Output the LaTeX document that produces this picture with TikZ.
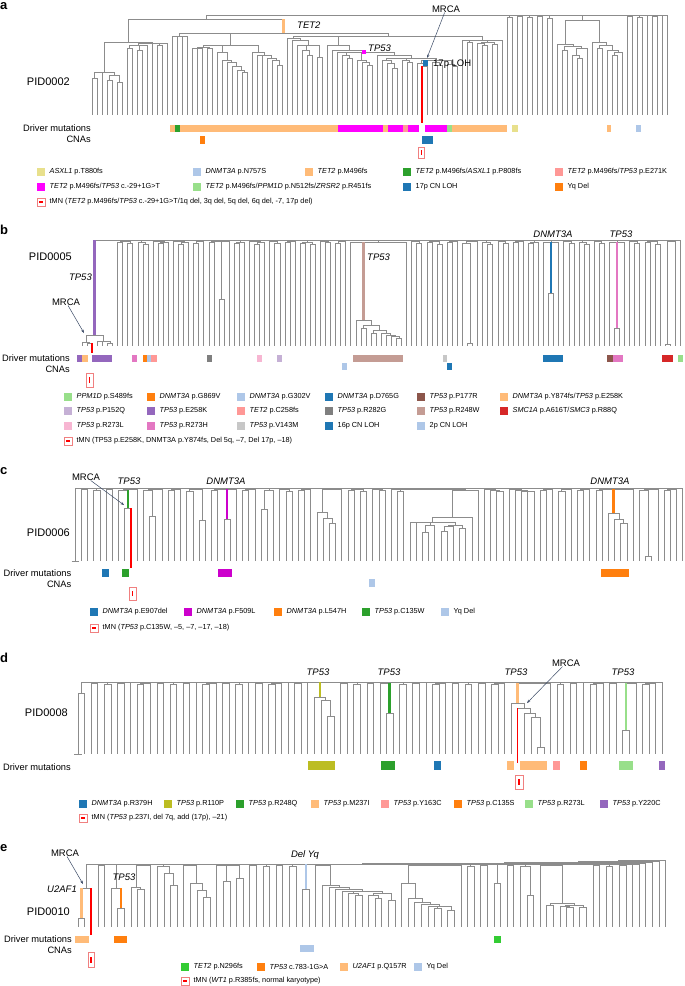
\documentclass[tikz,border=0pt]{standalone}
\usepackage{fontspec}
\setmainfont{Liberation Sans}
\setsansfont{Liberation Sans}
\usetikzlibrary{arrows.meta}

\definecolor{cLor}{HTML}{FFBB78}
\definecolor{cGrn}{HTML}{2CA02C}
\definecolor{cBlu}{HTML}{1F77B4}
\definecolor{cOra}{HTML}{FF7F0E}
\definecolor{cMag}{HTML}{FF00FF}
\definecolor{cMag2}{HTML}{CC00CC}
\definecolor{cPnk}{HTML}{E377C2}
\definecolor{cLav}{HTML}{C5B0D5}
\definecolor{cPur}{HTML}{9467BD}
\definecolor{cSal}{HTML}{FF9896}
\definecolor{cGry}{HTML}{7F7F7F}
\definecolor{cBrp}{HTML}{C49C94}
\definecolor{cRed}{HTML}{D62728}
\definecolor{cLgr}{HTML}{98DF8A}
\definecolor{cBrn}{HTML}{8C564B}
\definecolor{cLgy}{HTML}{C7C7C7}
\definecolor{cLpk}{HTML}{F7B6D2}
\definecolor{cLbl}{HTML}{AEC7E8}
\definecolor{cYel}{HTML}{E8E08C}
\definecolor{cOli}{HTML}{BCBD22}
\definecolor{cBgr}{HTML}{33CC33}
\definecolor{cArr}{HTML}{3B4A66}
\definecolor{cTmn}{HTML}{F08080}

\tikzset{
 treeline/.style={draw=black!45, line width=0.45pt},
 cbr/.style={line width=2.4pt},
 lbl/.style={inner sep=0pt, font=\fontsize{9.5}{11}\selectfont},
 glbl/.style={inner sep=0pt, font=\fontsize{9.5}{11}\selectfont\itshape},
 pid/.style={inner sep=0pt, anchor=east, font=\fontsize{11}{13}\selectfont},
 rowlbl/.style={inner sep=0pt, anchor=east, font=\fontsize{9.3}{11}\selectfont},
 plet/.style={inner sep=0pt, anchor=west, font=\fontsize{13}{15}\selectfont\bfseries},
 lgtext/.style={inner sep=0pt, anchor=west, font=\fontsize{7.3}{9}\selectfont},
 marrow/.style={draw=cArr, line width=0.5pt, -{Stealth[length=3.5pt,width=2.6pt]}},
 redl/.style={draw=red, line width=1.6pt},
}

\newcommand\DTv[3]{\draw[treeline] (#1,#2) -- (#1,#3);}
\newcommand\DTh[3]{\draw[treeline] (#1,#3) -- (#2,#3);}
\newcommand\DTc[3]{\coordinate (#1) at (#2,#3);}
\newcommand\lgbox[5]{\fill[#4] (#2,#3-4) rectangle ++(8,8); \node[lgtext] (#1) at (#2+12.5,#3) {#5};}
\newcommand\lgtmn[4]{\draw[cTmn, line width=0.6pt] (#2,#3-4) rectangle ++(8,8); \fill[red] (#2+2,#3-0.9) rectangle (#2+6,#3+0.9); \node[lgtext] (#1) at (#2+12.5,#3) {#4};}
\newcommand\dbar[5]{\fill[#5] (#1,#3) rectangle (#2,#4);}
\newcommand\tmnbox[4]{\draw[cTmn, line width=0.6pt] (#1,#2) rectangle (#3,#4); \fill[red] ({(#1+#3)/2-0.8},{#2+(#4-#2)*0.3}) rectangle ({(#1+#3)/2+0.8},{#4-(#4-#2)*0.3});}

\ExplSyntaxOn
\seq_new:N \g__dt_h_seq
\seq_new:N \g__dt_f_seq
\seq_new:N \g__dt_l_seq
\seq_new:N \g__dt_i_seq
\tl_new:N \g__dt_cx_tl
\tl_new:N \g__dt_cy_tl
\tl_new:N \g__dt_ci_tl
\tl_new:N \g__dt_cj_tl
\tl_new:N \g__dt_pre_tl
\int_new:N \g__dt_n_int
\tl_new:N \l__dt_h_tl
\tl_new:N \l__dt_f_tl
\tl_new:N \l__dt_l_tl
\tl_new:N \l__dt_i_tl
\cs_new_protected:Npn \__dt_attach:n #1
  {
    \use:x
      {
        \exp_not:N \DTv {\g__dt_cx_tl} {#1} {\g__dt_cy_tl}
        \exp_not:N \DTc {\g__dt_pre_tl \g__dt_ci_tl - \g__dt_cj_tl t} {\g__dt_cx_tl} {#1}
        \exp_not:N \DTc {\g__dt_pre_tl \g__dt_ci_tl - \g__dt_cj_tl b} {\g__dt_cx_tl} {\g__dt_cy_tl}
      }
  }
\cs_new_protected:Npn \__dt_close:
  {
    \seq_gpop:NN \g__dt_h_seq \l__dt_h_tl
    \seq_gpop:NN \g__dt_f_seq \l__dt_f_tl
    \seq_gpop:NN \g__dt_l_seq \l__dt_l_tl
    \seq_gpop:NN \g__dt_i_seq \l__dt_i_tl
    \__dt_attach:n { \l__dt_h_tl }
    \tl_set_eq:NN \l__dt_l_tl \g__dt_cx_tl
    \use:x { \exp_not:N \DTh {\l__dt_f_tl} {\l__dt_l_tl} {\l__dt_h_tl} }
    \tl_gset:Nx \g__dt_cx_tl { \fp_eval:n { (\l__dt_f_tl + \l__dt_l_tl) / 2 } }
    \tl_gset_eq:NN \g__dt_cy_tl \l__dt_h_tl
    \tl_gset_eq:NN \g__dt_ci_tl \l__dt_i_tl
  }
\cs_new_protected:Npn \dt_tree:nnnnn #1#2#3#4#5
  {
    \seq_gclear:N \g__dt_h_seq
    \seq_gclear:N \g__dt_f_seq
    \seq_gclear:N \g__dt_l_seq
    \seq_gclear:N \g__dt_i_seq
    \tl_gset:Nn \g__dt_pre_tl {#1}
    \int_gzero:N \g__dt_n_int
    \tl_gset:Nx \g__dt_cx_tl { \fp_eval:n {#2} }
    \tl_gset:Nn \g__dt_cy_tl {#4}
    \tl_gset:Nn \g__dt_ci_tl {0}
    \tl_gset:Nn \g__dt_cj_tl {0}
    \clist_map_inline:nn {#5}
      {
        \bool_while_do:nn
          {
            \bool_lazy_and_p:nn
              { ! \seq_if_empty_p:N \g__dt_h_seq }
              { \fp_compare_p:nNn { \seq_item:Nn \g__dt_h_seq {1} } > {##1} }
          }
          { \__dt_close: }
        \bool_lazy_and:nnTF
          { ! \seq_if_empty_p:N \g__dt_h_seq }
          { \fp_compare_p:nNn { \seq_item:Nn \g__dt_h_seq {1} } = {##1} }
          {
            \__dt_attach:n {##1}
            \seq_gpop:NN \g__dt_l_seq \l__dt_l_tl
            \seq_gpush:NV \g__dt_l_seq \g__dt_cx_tl
          }
          {
            \__dt_attach:n {##1}
            \seq_gpush:Nn \g__dt_h_seq {##1}
            \seq_gpush:NV \g__dt_f_seq \g__dt_cx_tl
            \seq_gpush:NV \g__dt_l_seq \g__dt_cx_tl
            \seq_gpush:NV \g__dt_i_seq \g__dt_ci_tl
          }
        \int_gincr:N \g__dt_n_int
        \tl_gset:Nx \g__dt_cx_tl { \fp_eval:n { #2 + #3 * \int_use:N \g__dt_n_int } }
        \tl_gset:Nn \g__dt_cy_tl {#4}
        \tl_gset:Nx \g__dt_ci_tl { \int_use:N \g__dt_n_int }
        \tl_gset:Nx \g__dt_cj_tl { \int_use:N \g__dt_n_int }
      }
    \bool_while_do:nn { ! \seq_if_empty_p:N \g__dt_h_seq } { \__dt_close: }
  }
\cs_new_eq:NN \dtree \dt_tree:nnnnn
\ExplSyntaxOff

\begin{document}
\begin{tikzpicture}[x=1pt,y=-1pt]
\fill[white] (0,0) rectangle (685,986);
\useasboundingbox (0,0) rectangle (685,986);

% ================= panel a =================
\node[plet] (la) at (0,6) {a};
\dtree{a}{92}{5}{115}{78,72,72,80,75,82,
42,48,45,50,45,43,43,45,43,
19,
36,36,36,
33,
48,48,47,48,
45,52,60,62,66,70,72,
45,52,55,55,58,60,65,
33,
38,40,45,50,55,45,57,
36,
45,50,52,55,58,52,60,62,65,52,55,60,63,68,58,60,62,
58,63,66,60,62,65,60,64,66,
36,
40,42,40,43,45,42,44,40,
15,17,15,16,15,17,15,16,15,18,
15,
44,50,46,55,58,48,
20,
42,48,45,50,55,52,
15,16,15,17,15,15,16,15,15}
\draw[cbr, cLor] (a16-82t) -- (a16-82b);
\node[glbl, anchor=west] (aTET2) at (297,25) {TET2};
\fill[cMag] (362,50) rectangle (366,54);
\node[glbl, anchor=west] (aTP53) at (368,48) {TP53};
\draw[redl] (a66-66t) -- (a66-66t |- 0,123);
\fill[cBlu] (423,60) rectangle (427.5,66);
\node[lbl, anchor=west] (a17p) at (433,64) {17p LOH};
\node[lbl] (aMRCA) at (446,9) {MRCA};
\coordinate (aMRCAt) at (427,58);
\draw[marrow] (aMRCA) -- (aMRCAt);
\node[pid] (aPID) at (70,82) {PID0002};
\node[rowlbl] (aDM) at (91,128) {Driver mutations};
\node[rowlbl] (aCN) at (91,139.5) {CNAs};
\dbar{170}{175}{124.5}{132}{cLor}
\dbar{175}{180}{124.5}{132}{cGrn}
\dbar{180}{338}{124.5}{132}{cLor}
\dbar{338}{383}{124.5}{132}{cMag}
\dbar{383}{388}{124.5}{132}{cLor}
\dbar{388}{403}{124.5}{132}{cMag}
\dbar{403}{408}{124.5}{132}{cSal}
\dbar{408}{418.5}{124.5}{132}{cMag}
\dbar{425}{447}{124.5}{132}{cMag}
\dbar{447}{452}{124.5}{132}{cLgr}
\dbar{452}{507}{124.5}{132}{cLor}
\dbar{512}{518}{124.5}{132}{cYel}
\dbar{607}{611}{124.5}{132}{cLor}
\dbar{636}{641}{124.5}{132}{cLbl}
\dbar{200}{205}{136}{144}{cOra}
\dbar{422}{433}{136}{144}{cBlu}
\tmnbox{418.5}{147}{424.5}{158}
\lgbox{aL1}{37}{172}{cYel}{\textit{ASXL1} p.T880fs}
\lgbox{aL2}{193}{172}{cLbl}{\textit{DNMT3A} p.N757S}
\lgbox{aL3}{305}{172}{cLor}{\textit{TET2} p.M496fs}
\lgbox{aL4}{403}{172}{cGrn}{\textit{TET2} p.M496fs/\textit{ASXL1} p.P808fs}
\lgbox{aL5}{555}{172}{cSal}{\textit{TET2} p.M496fs/\textit{TP53} p.E271K}
\lgbox{aL6}{37}{187}{cMag}{\textit{TET2} p.M496fs/\textit{TP53} c.-29+1G>T}
\lgbox{aL7}{193}{187}{cLgr}{\textit{TET2} p.M496fs/\textit{PPM1D} p.N512fs/\textit{ZRSR2} p.R451fs}
\lgbox{aL8}{403}{187}{cBlu}{17p CN LOH}
\lgbox{aL9}{555}{187}{cOra}{Yq Del}
\lgtmn{aL10}{37}{202}{tMN (\textit{TET2} p.M496fs/\textit{TP53} c.-29+1G>T/1q del, 3q del, 5q del, 6q del, -7, 17p del)}

% ================= panel b =================
\node[plet] (lb) at (0,230) {b};
\dtree{b}{82}{5.07}{346}{342,343,335,341,341,343,
240,242,241,243,240,242,244,240,241,243,
242,240,241,244,242,240,243,241,240,242,
241,299,241,240,243,242,240,241,244,242,
240,241,243,240,242,241,240,243,242,244,
240,241,242,240,243,241,240,242,
320,328,325,333,330,333,335,336,338,
242,240,241,243,240,242,241,244,240,242,
241,240,243,343,241,240,242,244,240,241,
243,240,242,241,240,243,242,240,242,293,
242,240,241,243,240,242,244,240,241,243,
240,242,328,242,240,241,243,240,242,241,
244,240,344,241,240}
\draw[cbr, cPur] (b0-6t) -- (b0-6b);
\draw[cbr, cBrp] (b54-63t) -- (b54-63b);
\draw[cbr, cBlu] (b92-93t) -- (b92-93b);
\draw[cbr, cPnk] (b105-106t) -- (b105-106b);
\draw[redl] (b2-2t) -- (b2-2t |- 0,353);
\node[pid] (bPID) at (72,257) {PID0005};
\node[glbl, anchor=east] (bTP53a) at (92,277) {TP53};
\node[lbl] (bMRCA) at (66,302) {MRCA};
\coordinate (bMRCAt) at (84,333);
\draw[marrow] (bMRCA) -- (bMRCAt);
\node[glbl, anchor=west] (bTP53b) at (367,257) {TP53};
\node[glbl] (bDNMT) at (553,234) {DNMT3A};
\node[glbl] (bTP53c) at (621,234) {TP53};
\node[rowlbl] (bDM) at (70,358) {Driver mutations};
\node[rowlbl] (bCN) at (70,369) {CNAs};
\dbar{77}{82}{354.5}{362}{cPur}
\dbar{82}{88}{354.5}{362}{cLor}
\dbar{92}{112}{354.5}{362}{cPur}
\dbar{132}{137}{354.5}{362}{cPnk}
\dbar{143}{147}{354.5}{362}{cOra}
\dbar{147}{151}{354.5}{362}{cLbl}
\dbar{151}{157}{354.5}{362}{cSal}
\dbar{207}{212}{354.5}{362}{cGry}
\dbar{257}{262}{354.5}{362}{cLpk}
\dbar{277}{282}{354.5}{362}{cLav}
\dbar{353}{403}{354.5}{362}{cBrp}
\dbar{443}{447}{354.5}{362}{cLgy}
\dbar{543}{563}{354.5}{362}{cBlu}
\dbar{607}{613}{354.5}{362}{cBrn}
\dbar{613}{623}{354.5}{362}{cPnk}
\dbar{662}{673}{354.5}{362}{cRed}
\dbar{678}{683}{354.5}{362}{cLgr}
\dbar{342}{347}{362.5}{370}{cLbl}
\dbar{447}{452}{362.5}{370}{cBlu}
\tmnbox{86}{373}{93}{387}
\lgbox{bL1}{64}{397}{cLgr}{\textit{PPM1D} p.S489fs}
\lgbox{bL2}{147}{397}{cOra}{\textit{DNMT3A} p.G869V}
\lgbox{bL3}{237}{397}{cLbl}{\textit{DNMT3A} p.G302V}
\lgbox{bL4}{325}{397}{cBlu}{\textit{DNMT3A} p.D765G}
\lgbox{bL5}{417}{397}{cBrn}{\textit{TP53} p.P177R}
\lgbox{bL6}{500}{397}{cLor}{\textit{DNMT3A} p.Y874fs/\textit{TP53} p.E258K}
\lgbox{bL7}{64}{411}{cLav}{\textit{TP53} p.P152Q}
\lgbox{bL8}{147}{411}{cPur}{\textit{TP53} p.E258K}
\lgbox{bL9}{237}{411}{cSal}{\textit{TET2} p.C258fs}
\lgbox{bL10}{325}{411}{cGry}{\textit{TP53} p.R282G}
\lgbox{bL11}{417}{411}{cBrp}{\textit{TP53} p.R248W}
\lgbox{bL12}{500}{411}{cRed}{\textit{SMC1A} p.A616T/\textit{SMC3} p.R88Q}
\lgbox{bL13}{64}{426}{cLpk}{\textit{TP53} p.R273L}
\lgbox{bL14}{147}{426}{cPnk}{\textit{TP53} p.R273H}
\lgbox{bL15}{237}{426}{cLgy}{\textit{TP53} p.V143M}
\lgbox{bL16}{325}{426}{cBlu}{16p CN LOH}
\lgbox{bL17}{417}{426}{cLbl}{2p CN LOH}
\lgtmn{bL18}{64}{441}{tMN (TP53 p.E258K, DNMT3A p.Y874fs, Del 5q, –7, Del 17p, –18)}

% ================= panel c =================
\node[plet] (lc) at (0,471) {c};
\dtree{c}{75}{6.2}{561}{488,489,488,490,488,489,488,490,508,489,
488,490,516,489,488,490,489,488,491,489,
520,488,490,489,519,489,488,490,489,488,
509,490,488,489,491,488,490,489,488,512,
518,523,489,488,490,489,491,488,489,490,
488,489,491,489,522,522,532,525,522,531,
526,525,528,517,490,488,489,490,491,488,
489,490,491,491,488,490,489,488,491,489,
488,490,489,488,490,489,513,519,523,489,
488,490,556,489,488,490,489,488}
\draw[treeline] ([xshift=-3.5pt]c0-0b) -- ([xshift=3.5pt]c0-0b);
\draw[cbr, cGrn] (c8-9t) -- (c8-9b);
\draw[cbr, cMag2] (c24-25t) -- (c24-25b);
\draw[cbr, cOra] (c86-89t) -- (c86-89b);
\draw[redl] (c9-9t) -- (c9-9t |- 0,568);
\node[lbl] (cMRCA) at (86,477) {MRCA};
\coordinate (cMRCAt) at (124,505);
\draw[marrow] (cMRCA) -- (cMRCAt);
\node[glbl] (cTP53) at (129,481) {TP53};
\node[glbl] (cDNMTa) at (226,481) {DNMT3A};
\node[glbl] (cDNMTb) at (610,481) {DNMT3A};
\node[pid] (cPID) at (70,533) {PID0006};
\node[rowlbl] (cDM) at (71.5,573) {Driver mutations};
\node[rowlbl] (cCN) at (71.5,584) {CNAs};
\dbar{102}{109}{569}{577}{cBlu}
\dbar{122}{129}{569}{577}{cGrn}
\dbar{218}{232}{569}{577}{cMag2}
\dbar{601}{629}{569}{577}{cOra}
\dbar{369}{375}{579}{587}{cLbl}
\tmnbox{129}{587}{136}{600}
\lgbox{cL1}{90}{612}{cBlu}{\textit{DNMT3A} p.E907del}
\lgbox{cL2}{184}{612}{cMag2}{\textit{DNMT3A} p.F509L}
\lgbox{cL3}{274}{612}{cOra}{\textit{DNMT3A} p.L547H}
\lgbox{cL4}{362}{612}{cGrn}{\textit{TP53} p.C135W}
\lgbox{cL5}{441}{612}{cLbl}{Yq Del}
\lgtmn{cL6}{90}{628}{tMN (\textit{TP53} p.C135W, –5, –7, –17, –18)}

% ================= panel d =================
\node[plet] (ld) at (0,658) {d};
\dtree{d}{78}{6.562}{754}{693,682,683,682,684,682,683,682,682,684,
683,682,683,682,684,682,683,682,682,684,
683,682,683,682,684,682,682,683,682,684,
683,682,682,683,682,682,697,700,716,682,
683,682,684,682,683,682,683,713,682,684,
682,683,682,682,684,683,682,683,682,684,
682,683,682,684,683,682,703,708,713,717,
747,683,682,684,682,683,682,682,684,683,
682,683,682,730,683,682,684,683,682}
\draw[treeline] ([xshift=-4pt]d0-0b) -- ([xshift=4pt]d0-0b);
\draw[cbr, cOli] (d36-39t) -- (d36-39b);
\draw[cbr, cGrn] (d47-48t) -- (d47-48b);
\draw[cbr, cLor] (d66-71t) -- (d66-71b);
\draw[cbr, cLgr] (d83-84t) -- (d83-84b);
\draw[redl] (d67-67t) -- (d67-67t |- 0,763);
\node[glbl] (dTP53a) at (318,672) {TP53};
\node[glbl] (dTP53b) at (389,672) {TP53};
\node[glbl] (dTP53c) at (516,672) {TP53};
\node[glbl] (dTP53d) at (623,672) {TP53};
\node[lbl] (dMRCA) at (566,663) {MRCA};
\coordinate (dMRCAt) at (527,703);
\draw[marrow] (dMRCA) -- (dMRCAt);
\node[pid] (dPID) at (68,713) {PID0008};
\node[rowlbl] (dDM) at (71,767) {Driver mutations};
\dbar{308}{335}{761}{770}{cOli}
\dbar{381}{395}{761}{770}{cGrn}
\dbar{434}{441}{761}{770}{cBlu}
\dbar{507}{514}{761}{770}{cLor}
\dbar{520}{547}{761}{770}{cLor}
\dbar{553}{560}{761}{770}{cSal}
\dbar{580}{587}{761}{770}{cOra}
\dbar{619}{633}{761}{770}{cLgr}
\dbar{659}{665}{761}{770}{cPur}
\tmnbox{515}{775}{523}{789}
\lgbox{dL1}{79}{804}{cBlu}{\textit{DNMT3A} p.R379H}
\lgbox{dL2}{164}{804}{cOli}{\textit{TP53} p.R110P}
\lgbox{dL3}{236}{804}{cGrn}{\textit{TP53} p.R248Q}
\lgbox{dL4}{311}{804}{cLor}{\textit{TP53} p.M237I}
\lgbox{dL5}{381}{804}{cSal}{\textit{TP53} p.Y163C}
\lgbox{dL6}{454}{804}{cOra}{\textit{TP53} p.C135S}
\lgbox{dL7}{525}{804}{cLgr}{\textit{TP53} p.R273L}
\lgbox{dL8}{600}{804}{cPur}{\textit{TP53} p.Y220C}
\lgtmn{dL9}{79}{818}{tMN (\textit{TP53} p.237I, del 7q, add (17p), –21)}

% ================= panel e =================
\node[plet] (le) at (0,848) {e};
\dtree{e}{78}{6.6}{927}{918,888,864,865,864,888,908,864,887,889,
865,864,866,873,885,864,865,883,890,897,
864,865,881,865,878,864,865,864,866,864,
865,864,866,864,889,864,865,885,887,889,
891,893,895,891,895,898,893,900,864,883,
898,902,904,906,908,906,910,865,864,866,
864,865,864,883,864,865,864,866,895,864,
865,905,903,906,907,905,907,864,865,864,
866,864,865,864,864,863,862,861,860}
\draw[cbr, cLor] (e0-1t) -- (e0-1b);
\draw[cbr, cOra] (e6-7t) -- (e6-7b);
\draw[cbr, cLbl] (e34-35t) -- (e34-35b);
\draw[redl] (e2-2t) -- (e2-2t |- 0,935);
\node[lbl] (eMRCA) at (65,853) {MRCA};
\coordinate (eMRCAt) at (83,884);
\draw[marrow] (eMRCA) -- (eMRCAt);
\node[glbl] (eDelYq) at (305,855) {Del Yq};
\node[glbl, anchor=east] (eU2AF1) at (77,889) {U2AF1};
\node[glbl] (eTP53) at (124,877) {TP53};
\node[pid] (ePID) at (70,912) {PID0010};
\node[rowlbl] (eDM) at (72,939) {Driver mutations};
\node[rowlbl] (eCN) at (72,950) {CNAs};
\dbar{75}{89}{935.5}{943}{cLor}
\dbar{114}{127}{935.5}{943}{cOra}
\dbar{494}{501}{935.5}{943}{cBgr}
\dbar{300}{314}{944.5}{952}{cLbl}
\tmnbox{88}{952}{94.5}{967}
\lgbox{eL1}{181}{967}{cBgr}{\textit{TET2} p.N296fs}
\lgbox{eL2}{257}{967}{cOra}{\textit{TP53} c.783-1G>A}
\lgbox{eL3}{340}{967}{cLor}{\textit{U2AF1} p.Q157R}
\lgbox{eL4}{414}{967}{cLbl}{Yq Del}
\lgtmn{eL5}{181}{981}{tMN (\textit{WT1} p.R385fs, normal karyotype)}
\end{tikzpicture}
\end{document}
